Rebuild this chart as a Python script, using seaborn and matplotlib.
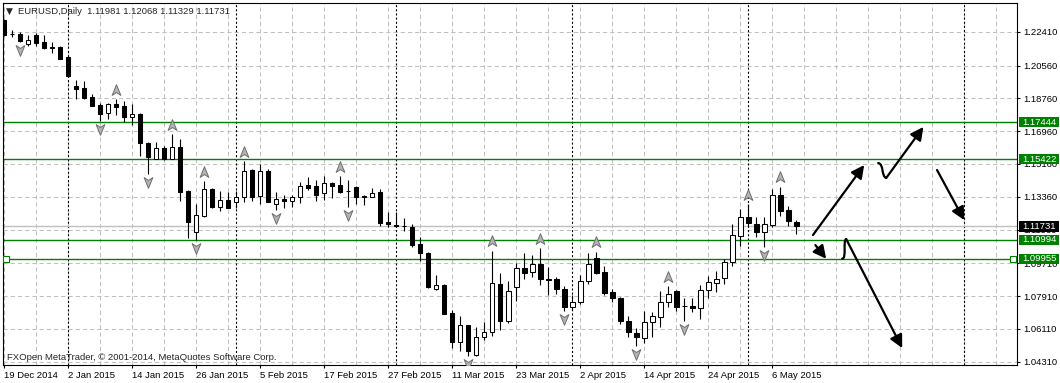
import numpy as np
import pandas as pd
import matplotlib
matplotlib.use("Agg")
import matplotlib.pyplot as plt
import seaborn as sns
from matplotlib.path import Path
from matplotlib.patches import PathPatch, Rectangle
from matplotlib.transforms import offset_copy, blended_transform_factory

# ---------------- data ----------------
symbol_title = "EURUSD,Daily  1.11981 1.12068 1.11329 1.11731"
copyright_text = "FXOpen MetaTrader, \u00a9 2001-2014, MetaQuotes Software Corp."

dates = pd.bdate_range("2014-12-19", "2015-05-11").drop(
    pd.to_datetime(["2014-12-25", "2015-01-01"]))

opens = [1.2306, 1.2231, 1.2227, 1.2172, 1.2224, 1.2184, 1.2157, 1.2156, 1.2100, 1.1943,
         1.1932, 1.1885, 1.1838, 1.1794, 1.1845, 1.1834, 1.1772, 1.1790, 1.1629, 1.1545,
         1.1603, 1.1545, 1.1608, 1.1367, 1.1144, 1.1230, 1.1378, 1.1281, 1.1318, 1.1309,
         1.1336, 1.1482, 1.1342, 1.1479, 1.1294, 1.1324, 1.1314, 1.1336, 1.1400, 1.1395,
         1.1355, 1.1411, 1.1400, 1.1370, 1.1389, 1.1338, 1.1336, 1.1360, 1.1197, 1.1180,
         1.1178, 1.1168, 1.1075, 1.1026, 1.0828, 1.0852, 1.0696, 1.0541, 1.0632, 1.0468,
         1.0565, 1.0595, 1.0856, 1.0656, 1.0839, 1.0947, 1.0921, 1.0967, 1.0885, 1.0883,
         1.0828, 1.0729, 1.0760, 1.0875, 1.0998, 1.0921, 1.0813, 1.0782, 1.0654, 1.0590,
         1.0563, 1.0650, 1.0674, 1.0757, 1.0819, 1.0739, 1.0736, 1.0724, 1.0824, 1.0865,
         1.0888, 1.0976, 1.1122, 1.1223, 1.1185, 1.1141, 1.1183, 1.1344, 1.1263, 1.11981]
highs = [1.2312, 1.2251, 1.2241, 1.2224, 1.2233, 1.2224, 1.2187, 1.2165, 1.2108, 1.1976,
         1.1972, 1.1898, 1.1849, 1.1849, 1.1872, 1.1861, 1.1843, 1.1797, 1.1638, 1.1635,
         1.1614, 1.1680, 1.1651, 1.1373, 1.1296, 1.1422, 1.1382, 1.1367, 1.1360, 1.1369,
         1.1532, 1.1486, 1.1515, 1.1488, 1.1362, 1.1345, 1.1345, 1.1417, 1.1443, 1.1428,
         1.1450, 1.1417, 1.1450, 1.1428, 1.1395, 1.1345, 1.1385, 1.1377, 1.1252, 1.1252,
         1.1218, 1.1186, 1.1113, 1.1035, 1.0905, 1.0857, 1.0715, 1.0682, 1.0635, 1.0620,
         1.0649, 1.1040, 1.0916, 1.0875, 1.0974, 1.1026, 1.1016, 1.1053, 1.0952, 1.0897,
         1.0846, 1.0797, 1.0905, 1.1026, 1.1035, 1.0958, 1.0828, 1.0788, 1.0682, 1.0614,
         1.0711, 1.0705, 1.0819, 1.0846, 1.0824, 1.0781, 1.0782, 1.0852, 1.0901, 1.0930,
         1.0993, 1.1186, 1.1270, 1.1296, 1.1226, 1.1226, 1.1378, 1.1391, 1.1285, 1.12068]
lows = [1.2218, 1.2213, 1.2185, 1.2165, 1.2165, 1.2145, 1.2123, 1.2090, 1.1994, 1.1874,
        1.1874, 1.1834, 1.1753, 1.1761, 1.1784, 1.1748, 1.1730, 1.1561, 1.1459, 1.1541,
        1.1537, 1.1541, 1.1311, 1.1111, 1.1098, 1.1226, 1.1272, 1.1259, 1.1274, 1.1272,
        1.1309, 1.1314, 1.1296, 1.1305, 1.1263, 1.1272, 1.1278, 1.1300, 1.1373, 1.1312,
        1.1318, 1.1331, 1.1355, 1.1278, 1.1296, 1.1290, 1.1333, 1.1175, 1.1172, 1.1172,
        1.1150, 1.1059, 1.0985, 1.0834, 1.0823, 1.0691, 1.0508, 1.0490, 1.0462, 1.0462,
        1.0550, 1.0574, 1.0605, 1.0645, 1.0766, 1.0886, 1.0897, 1.0852, 1.0797, 1.0802,
        1.0711, 1.0715, 1.0747, 1.0857, 1.0912, 1.0797, 1.0760, 1.0638, 1.0565, 1.0519,
        1.0532, 1.0568, 1.0620, 1.0729, 1.0711, 1.0655, 1.0705, 1.0664, 1.0782, 1.0815,
        1.0857, 1.0958, 1.1068, 1.1172, 1.1115, 1.1060, 1.1172, 1.1230, 1.1177, 1.11329]
closes = [1.2224, 1.2228, 1.2189, 1.2196, 1.2178, 1.2151, 1.2151, 1.2093, 1.1998, 1.1929,
          1.1880, 1.1836, 1.1791, 1.1843, 1.1830, 1.1772, 1.1790, 1.1629, 1.1556, 1.1602,
          1.1541, 1.1608, 1.1364, 1.1199, 1.1236, 1.1377, 1.1281, 1.1316, 1.1276, 1.1336,
          1.1477, 1.1336, 1.1477, 1.1309, 1.1322, 1.1314, 1.1333, 1.1395, 1.1382, 1.1345,
          1.1411, 1.1393, 1.1364, 1.1366, 1.1333, 1.1335, 1.1355, 1.1193, 1.1185, 1.1177,
          1.1175, 1.1071, 1.1026, 1.0839, 1.0852, 1.0693, 1.0541, 1.0632, 1.0491, 1.0565,
          1.0592, 1.0861, 1.0654, 1.0819, 1.0943, 1.0919, 1.0965, 1.0883, 1.0882, 1.0828,
          1.0729, 1.0760, 1.0875, 1.0965, 1.0919, 1.0806, 1.0779, 1.0656, 1.0595, 1.0565,
          1.0650, 1.0682, 1.0757, 1.0801, 1.0733, 1.0736, 1.0724, 1.0824, 1.0870, 1.0883,
          1.0976, 1.1126, 1.1223, 1.1194, 1.1144, 1.1185, 1.1344, 1.1260, 1.1204, 1.11731]

x_tick_labels = ["19 Dec 2014", "2 Jan 2015", "14 Jan 2015", "26 Jan 2015", "5 Feb 2015",
                 "17 Feb 2015", "27 Feb 2015", "11 Mar 2015", "23 Mar 2015", "2 Apr 2015",
                 "14 Apr 2015", "24 Apr 2015", "6 May 2015"]
y_tick_values = [1.22410, 1.20560, 1.18760, 1.16960, 1.15160, 1.13360, 1.11560,
                 1.09710, 1.07910, 1.06110, 1.04310]
level_lines = [1.17444, 1.15422, 1.10994, 1.09955]
last_price = 1.11731
fractal_up_bars = [14, 21, 25, 30, 42, 61, 67, 74, 83, 93, 97]
fractal_down_bars = [2, 12, 18, 24, 34, 43, 58, 70, 79, 85, 95]
separator_bars = [8, 29, 49, 71, 93, 120]

# hand-drawn forecast arrows (bar index, price)
arrow_straight = [((101.1, 1.1126), (107.5, 1.1510)),
                  ((101.4, 1.1071), (102.75, 1.0996)),
                  ((116.6, 1.1483), (120.0, 1.1208))]
squiggle_up = [(109.25, 1.1521), (110.0, 1.1515), (109.6, 1.1450), (110.25, 1.1439)]
squiggle_up_tip = (114.9, 1.1719)
squiggle_dn = [(104.75, 1.0996), (105.35, 1.0998), (104.8, 1.1095), (105.25, 1.1104)]
squiggle_dn_tip = (112.25, 1.0506)

# ---------------- style ----------------
sns.set_style("white")
plt.rcParams["font.family"] = ["Liberation Sans", "DejaVu Sans"]
plt.rcParams["lines.scale_dashes"] = False
FS = 6.8
GREEN = "#008000"

df = pd.DataFrame({"date": dates, "open": opens, "high": highs,
                   "low": lows, "close": closes})
df["bar"] = np.arange(len(df))

fig = plt.figure(figsize=(10.6, 3.83), dpi=100)
ax = fig.add_axes([0.00255, 0.047, 0.9569, 0.9452])
ax.set_xlim(-0.16, 126.6)
ax.set_ylim(1.0413, 1.2399)

# grid
for b in range(0, 127, 4):
    ax.axvline(b, color="#c0c0c0", lw=0.75, ls=(0, (3, 2.2)), zorder=0.5)
for v in y_tick_values:
    ax.axhline(v, color="#c0c0c0", lw=0.75, ls=(0, (3, 2.2)), zorder=0.5)
for b in separator_bars:
    ax.axvline(b, color="black", lw=0.8, ls=(0, (1.5, 1.5)), zorder=1)

# levels
ax.axhline(last_price, color="#c0c0c0", lw=1.0, zorder=1.2)
for lv in level_lines:
    ax.axhline(lv, color=GREEN, lw=1.0, zorder=1.5)
btr = blended_transform_factory(ax.transAxes, ax.transData)
ax.plot([0.0035, 0.9965], [level_lines[3]] * 2, ls="none", marker="s", ms=4,
        mfc="white", mec=GREEN, mew=0.8, transform=btr, zorder=5)

# candles
up = df["close"] >= df["open"]
ax.vlines(df["bar"], df["low"], df["high"], color="black", lw=0.8, zorder=3)
body_bottom = np.minimum(df["open"], df["close"])
body_h = np.abs(df["close"] - df["open"])
ax.bar(df["bar"], body_h, bottom=body_bottom, width=0.6,
       color=np.where(up, "white", "black"), edgecolor="black", linewidth=0.75, zorder=4)

# fractals
def chevron(direction):
    if direction == "up":
        verts = [(0, 1), (0.75, -0.85), (0, -0.35), (-0.75, -0.85), (0, 1)]
    else:
        verts = [(0, -1), (0.75, 0.85), (0, 0.35), (-0.75, 0.85), (0, -1)]
    codes = [Path.MOVETO, Path.LINETO, Path.LINETO, Path.LINETO, Path.CLOSEPOLY]
    return Path(verts, codes)

fu = df.iloc[fractal_up_bars]
fd = df.iloc[fractal_down_bars]
sns.scatterplot(x=fu["bar"], y=fu["high"], ax=ax, marker=chevron("up"), s=70,
                color="#b4b4b4", edgecolor="#6e6e6e", linewidth=0.7, zorder=6,
                transform=offset_copy(ax.transData, fig=fig, y=6.8, units="points"),
                legend=False)
sns.scatterplot(x=fd["bar"], y=fd["low"], ax=ax, marker=chevron("down"), s=70,
                color="#b4b4b4", edgecolor="#6e6e6e", linewidth=0.7, zorder=6,
                transform=offset_copy(ax.transData, fig=fig, y=-5.8, units="points"),
                legend=False)
ax.set_xlim(-0.16, 126.6)
ax.set_ylim(1.0413, 1.2399)
ax.set_xlabel("")
ax.set_ylabel("")

# hand-drawn arrows
aprops = dict(arrowstyle="-|>,head_length=0.55,head_width=0.28", lw=1.6,
              color="black", shrinkA=0, shrinkB=0, mutation_scale=14)
for start, tip in arrow_straight:
    ax.annotate("", xy=tip, xytext=start, arrowprops=aprops, zorder=7)
for pts, tip in [(squiggle_up, squiggle_up_tip), (squiggle_dn, squiggle_dn_tip)]:
    path = Path(pts, [Path.MOVETO, Path.CURVE4, Path.CURVE4, Path.CURVE4])
    ax.add_patch(PathPatch(path, fc="none", ec="black", lw=1.6, zorder=7,
                           capstyle="round"))
    ax.annotate("", xy=tip, xytext=pts[-1], arrowprops=aprops, zorder=7)

# axes decoration
for s in ax.spines.values():
    s.set_color("black")
    s.set_linewidth(0.8)
    s.set_visible(True)
ax.yaxis.tick_right()
ax.set_yticks(y_tick_values)
ax.set_yticklabels([f"{v:.5f}" for v in y_tick_values])
ax.set_xticks(range(0, 8 * len(x_tick_labels), 8))
ax.set_xticklabels(x_tick_labels)
for t in ax.get_xticklabels():
    t.set_ha("left")
ax.tick_params(axis="x", which="major", direction="out", length=2.5, width=0.8,
               pad=1.5, labelsize=FS, colors="black", bottom=True)
ax.tick_params(axis="y", which="major", direction="out", length=2.5, width=0.8,
               pad=2, labelsize=FS, colors="black", right=True, left=False)

# price tags on the right
for lv, fc in [(level_lines[0], GREEN), (level_lines[1], GREEN),
               (last_price, "black"), (level_lines[2], GREEN), (level_lines[3], GREEN)]:
    ax.add_patch(Rectangle((1.0018, lv - 0.0028), 0.0396, 0.0056, transform=btr,
                           fc=fc, ec="none", clip_on=False, zorder=8))
    ax.text(1.0053, lv, f"{lv:.5f}", transform=btr, ha="left", va="center",
            fontsize=FS, color="white", clip_on=False, zorder=9)

# texts
fig.text(6 / 1060, 1 - 11 / 383, "\u25BC", fontsize=6.5, va="center", ha="left",
         family=["DejaVu Sans"])
fig.text(18 / 1060, 1 - 11 / 383, symbol_title, fontsize=FS, va="center", ha="left")
fig.text(7 / 1060, 1 - 357 / 383, copyright_text, fontsize=FS, va="center", ha="left")

fig.savefig("out.png", dpi=100, facecolor="white")
